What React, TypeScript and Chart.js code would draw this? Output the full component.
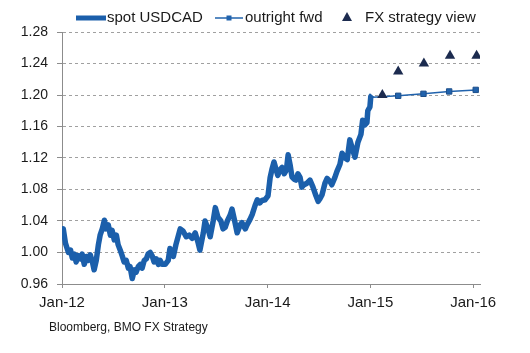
import React, { useEffect, useRef } from "react";
import { Chart, registerables } from "chart.js";

Chart.register(...registerables);

// ---- data (x = months since Jan 2012) ----
const spotMonths = [
  0, 0.15, 0.4, 0.75, 1.0, 1.2, 1.45, 1.65, 1.9, 2.15, 2.35, 2.6, 2.85, 3.05, 3.3, 3.55, 3.75, 4.0, 4.25, 4.45,
  4.7, 4.95, 5.15, 5.4, 5.65, 5.85, 6.1, 6.35, 6.55, 6.8, 7.05, 7.25, 7.5, 7.75, 7.95, 8.2, 8.45, 8.65, 8.9, 9.15,
  9.35, 9.6, 9.85, 10.05, 10.3, 10.55, 10.75, 11.0, 11.25, 11.45, 11.7,
  12.05, 12.4, 12.6, 13.0, 13.3, 13.8, 14.15, 14.5, 14.85, 15.2, 15.55, 15.9, 16.1, 16.5, 16.7, 17.05, 17.3, 17.65,
  17.9, 18.2, 18.55, 18.8, 19.05, 19.3, 19.65, 19.85, 20.2, 20.45, 20.8, 21.0, 21.4, 21.6, 21.95, 22.2, 22.55, 22.8,
  23.1, 23.35, 23.7,
  24.05, 24.3, 24.5, 24.75, 25.0, 25.2, 25.45, 25.7, 25.95, 26.2, 26.4, 26.65, 26.85, 27.1, 27.3, 27.55, 27.8, 28.0,
  28.25, 28.6, 28.95, 29.3, 29.65, 29.9, 30.1, 30.35, 30.7, 30.95, 31.3, 31.5, 31.85, 32.1, 32.45, 32.7, 33.05,
  33.3, 33.6, 33.95, 34.2, 34.55, 34.9, 35.1, 35.35, 35.6, 35.7, 35.95, 36.05, 36.2,
];
const spotValues = [
  1.025, 1.03, 1.012, 1.0, 1.003, 0.993, 0.998, 0.988, 0.996, 0.992, 0.998, 0.985, 0.995, 0.99, 0.997, 0.988, 0.978,
  0.99, 1.01, 1.022, 1.03, 1.041, 1.03, 1.035, 1.022, 1.028, 1.016, 1.022, 1.01, 1.003, 0.995, 0.988, 0.99, 0.98,
  0.982, 0.967, 0.978, 0.975, 0.982, 0.985, 0.98, 0.99, 0.992, 0.998, 1.0, 0.995, 0.988, 0.992, 0.985, 0.99, 0.985,
  0.985, 0.99, 1.005, 0.995, 1.01, 1.03, 1.027, 1.02, 1.022, 1.018, 1.025, 1.012, 1.003, 1.025, 1.04, 1.03, 1.02,
  1.04, 1.057, 1.045, 1.04, 1.03, 1.032, 1.04, 1.048, 1.055, 1.038, 1.025, 1.035, 1.038, 1.03, 1.035, 1.042, 1.048,
  1.06, 1.067, 1.063, 1.066, 1.067,
  1.072, 1.095, 1.105, 1.115, 1.105, 1.098, 1.105, 1.108, 1.1, 1.105, 1.124, 1.11, 1.096, 1.093, 1.092, 1.1, 1.095,
  1.083, 1.086, 1.088, 1.092, 1.083, 1.072, 1.065, 1.068, 1.073, 1.088, 1.094, 1.09, 1.086, 1.095, 1.103, 1.112,
  1.126, 1.12, 1.118, 1.143, 1.13, 1.121, 1.14, 1.15, 1.168, 1.162, 1.165, 1.18, 1.185, 1.198, 1.2,
];
const fwdMonths = [36.3, 39.25, 42.2, 45.2, 48.3];
const fwdValues = [1.197, 1.199, 1.2015, 1.2045, 1.2065];
const viewMonths = [37.4, 39.25, 42.25, 45.3, 48.4];
const viewValues = [1.2, 1.23, 1.24, 1.25, 1.25];

const xTickMonths = [0, 12, 24, 36, 48];
const xTickLabels = ["Jan-12", "Jan-13", "Jan-14", "Jan-15", "Jan-16"];
const yTicks = [0.96, 1.0, 1.04, 1.08, 1.12, 1.16, 1.2, 1.24, 1.28];
const yTickLabels = ["0.96", "1.00", "1.04", "1.08", "1.12", "1.16", "1.20", "1.24", "1.28"];
const seriesNames = ["spot USDCAD", "outright fwd", "FX strategy view"];
const sourceNote = "Bloomberg, BMO FX Strategy";

const FONT = "'Liberation Sans', Arial, sans-serif";
const SPOT_COLOR = "#1b5fab";
const FWD_COLOR = "#2163ad";
const VIEW_COLOR = "#1c2b4f";
const TEXT_COLOR = "#1a1a1a";

const legendPlugin = {
  id: "customLegend",
  afterDraw(chart: any) {
    const ctx = chart.ctx as CanvasRenderingContext2D;
    ctx.save();
    const y = 18;
    ctx.font = `15px ${FONT}`;
    ctx.fillStyle = TEXT_COLOR;
    ctx.textBaseline = "middle";
    ctx.textAlign = "left";
    // spot
    ctx.strokeStyle = SPOT_COLOR;
    ctx.lineWidth = 5;
    ctx.beginPath();
    ctx.moveTo(76, y);
    ctx.lineTo(106, y);
    ctx.stroke();
    ctx.fillText(seriesNames[0], 107, y);
    // fwd
    ctx.strokeStyle = FWD_COLOR;
    ctx.lineWidth = 1.5;
    ctx.beginPath();
    ctx.moveTo(215, y);
    ctx.lineTo(243, y);
    ctx.stroke();
    ctx.fillStyle = FWD_COLOR;
    ctx.fillRect(226.5, y - 2.5, 5, 5);
    ctx.fillStyle = TEXT_COLOR;
    ctx.fillText(seriesNames[1], 245, y);
    // view
    ctx.fillStyle = VIEW_COLOR;
    ctx.beginPath();
    ctx.moveTo(347, y - 6);
    ctx.lineTo(352, y + 3);
    ctx.lineTo(342, y + 3);
    ctx.closePath();
    ctx.fill();
    ctx.fillStyle = TEXT_COLOR;
    ctx.fillText(seriesNames[2], 365, y);
    // source
    ctx.font = `12px ${FONT}`;
    ctx.fillText(sourceNote, 49, 328);
    ctx.restore();
  },
};

export default function App() {
  const ref = useRef<HTMLCanvasElement | null>(null);
  useEffect(() => {
    if (!ref.current) return;
    const chart = new Chart(ref.current, {
      type: "line",
      data: {
        datasets: [
          {
            label: seriesNames[0],
            data: spotMonths.map((m, i) => ({ x: m, y: spotValues[i] })),
            borderColor: SPOT_COLOR,
            borderWidth: 5.5,
            pointRadius: 0,
            borderJoinStyle: "round",
            tension: 0,
            order: 3,
          },
          {
            label: seriesNames[1],
            data: fwdMonths.map((m, i) => ({ x: m, y: fwdValues[i] })),
            borderColor: FWD_COLOR,
            backgroundColor: FWD_COLOR,
            borderWidth: 1.5,
            pointStyle: "rect",
            pointRadius: fwdMonths.map((_, i) => (i === 0 ? 0 : 3.8)),
            pointBorderColor: "#1d4f8a",
            pointBorderWidth: 1,
            tension: 0,
            order: 2,
          },
          {
            label: seriesNames[2],
            data: viewMonths.map((m, i) => ({ x: m, y: viewValues[i] })),
            showLine: false,
            pointStyle: "triangle",
            pointRadius: 6,
            backgroundColor: VIEW_COLOR,
            borderColor: VIEW_COLOR,
            pointBorderWidth: 0,
            order: 1,
          },
        ],
      },
      options: {
        responsive: false,
        animation: false,
        devicePixelRatio: 1,
        layout: { padding: { left: 0, right: 50, top: 32, bottom: 0 } },
        plugins: { legend: { display: false }, tooltip: { enabled: false } },
        scales: {
          x: {
            type: "linear",
            min: 0,
            max: 48.8,
            afterBuildTicks: (scale: any) => {
              scale.ticks = xTickMonths.map((v) => ({ value: v }));
            },
            afterFit: (scale: any) => {
              scale.height = 69;
            },
            ticks: {
              autoSkip: false,
              maxRotation: 0,
              padding: 6,
              color: TEXT_COLOR,
              font: { family: FONT, size: 15 },
              callback: (_v: any, i: number) => xTickLabels[i],
            },
            grid: {
              drawOnChartArea: false,
              drawTicks: true,
              tickLength: 4,
              color: "#8c8c8c",
            },
            border: { color: "#8c8c8c", width: 1 },
          },
          y: {
            type: "linear",
            min: 0.96,
            max: 1.28,
            afterBuildTicks: (scale: any) => {
              scale.ticks = yTicks.map((v) => ({ value: v }));
            },
            afterFit: (scale: any) => {
              scale.width = 62;
            },
            ticks: {
              padding: 9,
              color: TEXT_COLOR,
              font: { family: FONT, size: 14 },
              callback: (_v: any, i: number) => yTickLabels[i],
            },
            grid: {
              color: (c: any) => (c.index === 0 ? "rgba(0,0,0,0)" : "#a0a0a0"),
              tickColor: "#8c8c8c",
              tickLength: 5,
              lineWidth: 1,
            },
            border: { color: "#8c8c8c", width: 1, dash: [3, 3] },
          },
        },
      },
      plugins: [legendPlugin],
    } as any);
    return () => chart.destroy();
  }, []);
  return (
    <div style={{ position: "fixed", left: 0, top: 0, width: 530, height: 353, background: "#fff" }}>
      <canvas ref={ref} width={530} height={353} style={{ display: "block", width: 530, height: 353 }} />
    </div>
  );
}
